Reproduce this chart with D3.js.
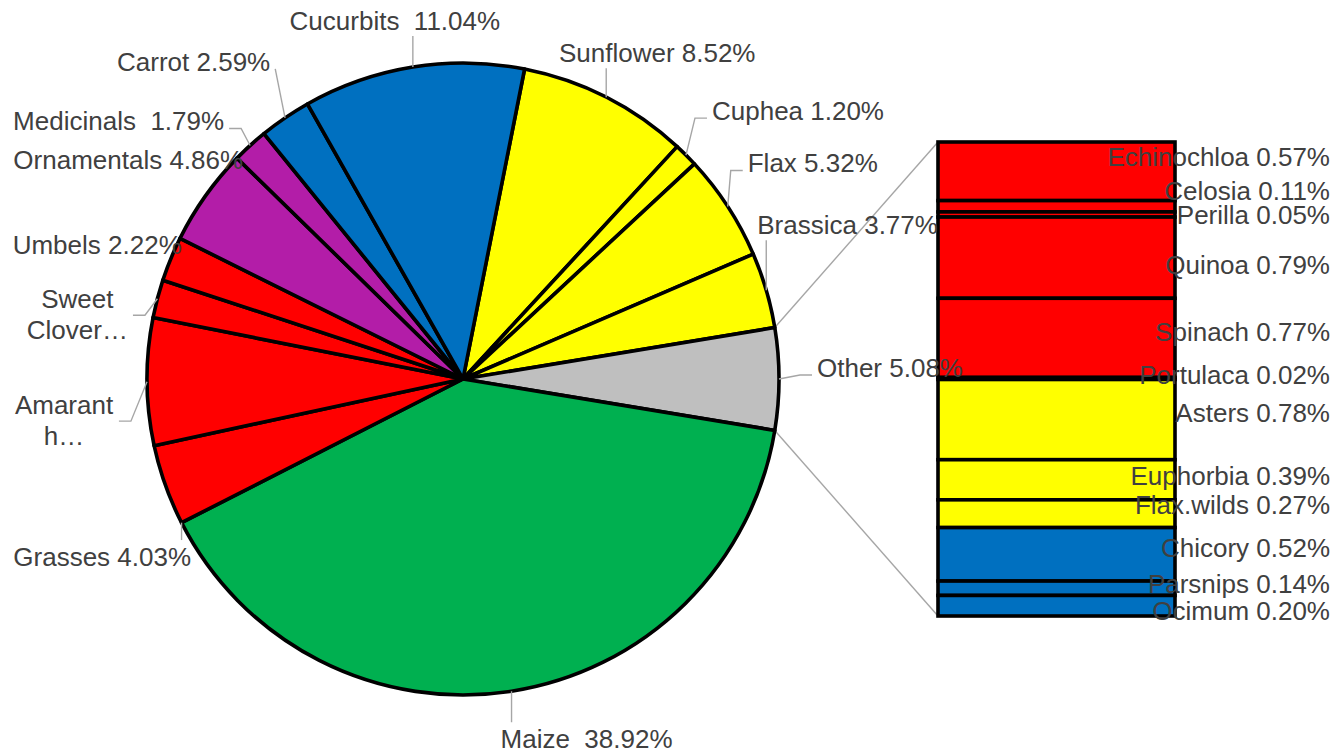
<!DOCTYPE html>
<html>
<head>
<meta charset="utf-8">
<script src="https://cdn.jsdelivr.net/npm/d3@7"></script>
<style>
  html, body { margin: 0; padding: 0; background: #fff; }
  svg { display: block; font-family: "Liberation Sans", Arial, Helvetica, sans-serif; }
  text { white-space: pre; }
</style>
</head>
<body>
<svg id="chart" width="1337" height="751"></svg>
<script>
// ---- Main pie: share of accessions (%) by crop, clockwise from the top ----
const pieCategories = ["Sunflower", "Cuphea", "Flax", "Brassica", "Other", "Maize", "Grasses",
  "Amaranth", "Sweet Clover", "Umbels", "Ornamentals", "Medicinals", "Carrot", "Cucurbits"];
const pieValues = [8.52, 1.20, 5.32, 3.77, 5.08, 38.92, 4.03, 6.34, 1.90, 2.22, 4.86, 1.79, 2.59, 11.04];
const pieLabels = [["Sunflower 8.52%"], ["Cuphea 1.20%"], ["Flax 5.32%"], ["Brassica 3.77%"],
  ["Other 5.08%"], ["Maize  38.92%"], ["Grasses 4.03%"], ["Amarant", "h…"], ["Sweet", "Clover…"],
  ["Umbels 2.22%"], ["Ornamentals 4.86%"], ["Medicinals  1.79%"], ["Carrot 2.59%"], ["Cucurbits  11.04%"]];
const pieGroups = ["oilseed", "oilseed", "oilseed", "oilseed", "other", "maize", "leafy",
  "leafy", "leafy", "leafy", "ornamental", "ornamental", "vegetable", "vegetable"];

// ---- Secondary bar: breakdown of "Other" ----
const barCategories = ["Echinochloa", "Celosia", "Perilla", "Quinoa", "Spinach", "Portulaca",
  "Asters", "Euphorbia", "Flax.wilds", "Chicory", "Parsnips", "Ocimum"];
const barValues = [0.57, 0.11, 0.05, 0.79, 0.77, 0.02, 0.78, 0.39, 0.27, 0.52, 0.14, 0.20];
const barGroups = ["leafy", "leafy", "leafy", "leafy", "leafy", "leafy",
  "oilseed", "oilseed", "oilseed", "vegetable", "vegetable", "vegetable"];

// ---- Layout ----
const cx = 463, cy = 379, R = 316;
const barBox = { x0: 938, x1: 1175, y0: 142, y1: 616 };
const fontSize = 26, lineH = 31;
const textColor = "#404040", leaderColor = "#a6a6a6";
const outline = 3.6;

// label placement: [dx, dy] of first baseline from the slice's outer mid point, text anchor,
// and where the leader line meets the slice ("mid" or "start")
const pieLabelLayout = [
  [51, -35, "middle", "mid"], [26, -35, "start", "mid"], [20, -34, "start", "mid"],
  [-9, -56, "start", "mid"], [38, -2, "start", "mid"], [75, 57, "middle", "mid"],
  [-152, 81, "start", "start"], [-83, 32, "middle", "mid"], [-80, 9, "middle", "mid"],
  [-158, -5, "start", "mid"], [-192, -27, "start", "mid"], [-237, -15, "start", "mid"],
  [-168, -47, "start", "mid"], [-18, -37, "middle", "mid"]
];
// vertical shift (px) of each bar label from its segment centre
const barLabelShift = [-15, -16, 0, 7, -6, -4, -7, -4, -9, -7, -5, 5];

const color = d3.scaleOrdinal()
  .domain(["oilseed", "other", "maize", "leafy", "ornamental", "vegetable"])
  .range(["#ffff00", "#bfbfbf", "#00b050", "#ff0000", "#b31da8", "#0070c0"]);

const svg = d3.select("#chart");

const pieData = pieCategories.map((c, i) => ({ name: c, value: pieValues[i], group: pieGroups[i], label: pieLabels[i], layout: pieLabelLayout[i] }));

// rotate so the "Other" slice is centred at 3 o'clock
const total = d3.sum(pieValues);
const otherIdx = pieCategories.indexOf("Other");
const before = d3.sum(pieValues.slice(0, otherIdx)) + pieValues[otherIdx] / 2;
const a0 = Math.PI / 2 - before / total * 2 * Math.PI;

const pie = d3.pie().sort(null).value(d => d.value).startAngle(a0).endAngle(a0 + 2 * Math.PI);
const arcs = pie(pieData);
const arcGen = d3.arc().innerRadius(0).outerRadius(R);
const polar = (a, r = R) => [cx + r * Math.sin(a), cy - r * Math.cos(a)];

// connector lines from the "Other" slice to the bar
const otherArc = arcs[otherIdx];
const connG = svg.append("g").attr("stroke", leaderColor).attr("stroke-width", 1.4).attr("fill", "none");
const pTop = polar(otherArc.startAngle), pBot = polar(otherArc.endAngle);
connG.append("line").attr("x1", pTop[0]).attr("y1", pTop[1]).attr("x2", barBox.x0).attr("y2", barBox.y0);
connG.append("line").attr("x1", pBot[0]).attr("y1", pBot[1]).attr("x2", barBox.x0).attr("y2", barBox.y1);

// pie slices
svg.append("g").attr("transform", `translate(${cx},${cy})`)
  .selectAll("path").data(arcs).join("path")
  .attr("d", arcGen)
  .attr("fill", d => color(d.data.group))
  .attr("stroke", "#000").attr("stroke-width", outline).attr("stroke-linejoin", "round");

// stacked bar
const y = d3.scaleLinear().domain([0, d3.sum(barValues)]).range([barBox.y0, barBox.y1]);
const cum = [0, ...d3.cumsum(barValues)];
const barData = barCategories.map((c, i) => ({ name: c, value: barValues[i], group: barGroups[i], lo: cum[i], hi: cum[i + 1] }));
svg.append("g").selectAll("rect").data(barData).join("rect")
  .attr("x", barBox.x0).attr("width", barBox.x1 - barBox.x0)
  .attr("y", d => y(d.lo)).attr("height", d => y(d.hi) - y(d.lo))
  .attr("fill", d => color(d.group))
  .attr("stroke", "#000").attr("stroke-width", outline);

// leader lines and labels
const leaderG = svg.append("g").attr("stroke", leaderColor).attr("stroke-width", 1.4).attr("fill", "none");
const labelG = svg.append("g").attr("font-size", fontSize).attr("fill", textColor);

arcs.forEach(d => {
  const [dx, dy, anchor, at] = d.data.layout;
  const mid = (d.startAngle + d.endAngle) / 2;
  const P = polar(mid);
  const lx = P[0] + dx, ly = P[1] + dy;
  const t = labelG.append("text").attr("x", lx).attr("y", ly).attr("text-anchor", anchor);
  d.data.label.forEach((s, j) => t.append("tspan").attr("x", lx).attr("dy", j ? lineH : 0).text(s));

  const bb = t.node().getBBox();
  const n = d.data.label.length;
  const x0 = bb.x, x1 = bb.x + bb.width;
  const top = ly - 26, bottom = ly + (n - 1) * lineH + 6;

  // no leader when the label sits on the pie
  const qx = Math.max(x0, Math.min(cx, x1)), qy = Math.max(top, Math.min(cy, bottom));
  if (Math.hypot(qx - cx, qy - cy) < R - 6) return;

  const T = at === "start" ? polar(d.startAngle) : P;
  const yAttach = (top + bottom) / 2 + (n === 1 ? 8 : 2);
  const stub = 12;
  let pts;
  if (T[0] > x1 + 5) {
    const ax = x1 + 5;
    pts = (T[0] - ax > stub) ? [[ax, yAttach], [ax + stub, yAttach], T] : [[ax, yAttach], T];
  } else if (T[0] < x0 - 5) {
    const ax = x0 - 5;
    pts = (ax - T[0] > stub) ? [[ax, yAttach], [ax - stub, yAttach], T] : [[ax, yAttach], T];
  } else if (T[1] < top) {
    pts = [[T[0], top], T];
  } else {
    pts = [[T[0], bottom], T];
  }
  leaderG.append("path").attr("d", d3.line()(pts));
});

// bar labels, right-aligned
const barLabelX = 1330;
labelG.selectAll("text.bar").data(barData).join("text")
  .attr("class", "bar")
  .attr("x", barLabelX)
  .attr("y", (d, i) => (y(d.lo) + y(d.hi)) / 2 + barLabelShift[i] + 0.36 * fontSize)
  .attr("text-anchor", "end")
  .text(d => `${d.name} ${d.value.toFixed(2)}%`);
</script>
</body>
</html>
